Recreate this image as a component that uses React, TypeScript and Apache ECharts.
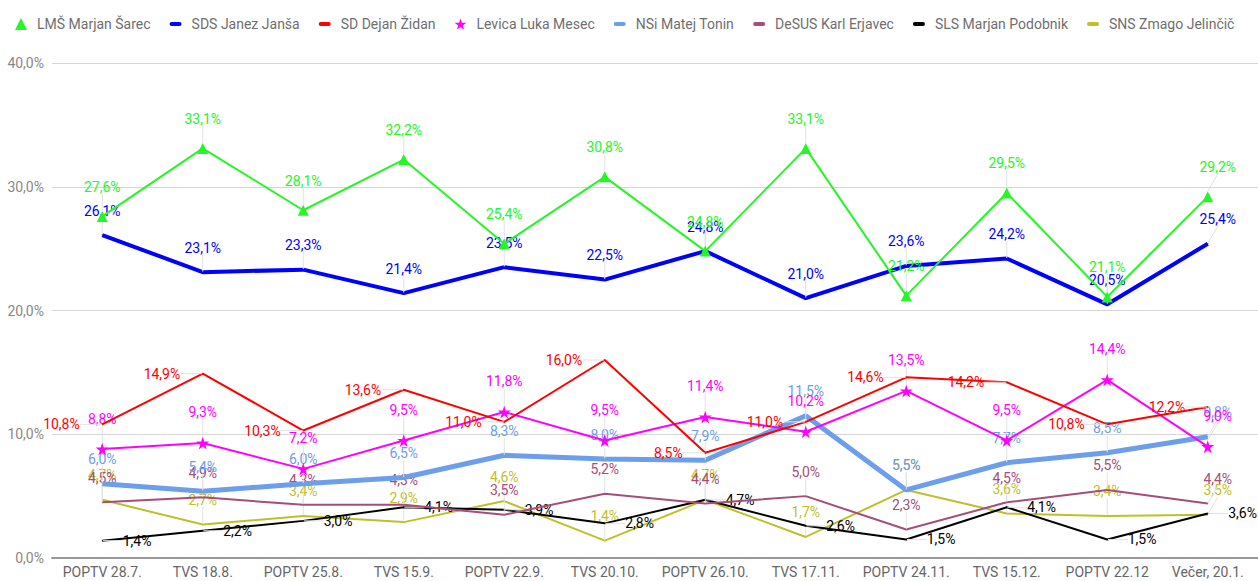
import React, { useEffect, useRef } from "react";
import * as echarts from "echarts";

const categories = [
  "POPTV 28.7.", "TVS 18.8.", "POPTV 25.8.", "TVS 15.9.", "POPTV 22.9.", "TVS 20.10.",
  "POPTV 26.10.", "TVS 17.11.", "POPTV 24.11.", "TVS 15.12.", "POPTV 22.12", "Večer, 20.1.",
];

const lms = [27.6, 33.1, 28.1, 32.2, 25.4, 30.8, 24.8, 33.1, 21.2, 29.5, 21.1, 29.2];
const sds = [26.1, 23.1, 23.3, 21.4, 23.5, 22.5, 24.8, 21.0, 23.6, 24.2, 20.5, 25.4];
const sd = [10.8, 14.9, 10.3, 13.6, 11.0, 16.0, 8.5, 11.0, 14.6, 14.2, 10.8, 12.2];
const levica = [8.8, 9.3, 7.2, 9.5, 11.8, 9.5, 11.4, 10.2, 13.5, 9.5, 14.4, 9.0];
const nsi = [6.0, 5.4, 6.0, 6.5, 8.3, 8.0, 7.9, 11.5, 5.5, 7.7, 8.5, 9.8];
const desus = [4.5, 4.9, 4.3, 4.3, 3.5, 5.2, 4.4, 5.0, 2.3, 4.5, 5.5, 4.4];
const sls = [1.4, 2.2, 3.0, 4.1, 3.9, 2.8, 4.7, 2.6, 1.5, 4.1, 1.5, 3.6];
const sns = [4.7, 2.7, 3.4, 2.9, 4.6, 1.4, 4.7, 1.7, 5.5, 3.6, 3.4, 3.5];

const yTicks = { min: 0, max: 40, interval: 10 };

const STAR = "path://M50,0 L61,35 L98,35 L68,57 L79,91 L50,70 L21,91 L32,57 L2,35 L39,35 Z";
const BAR = "path://M2,0 L10,0 A2,2 0 0 1 10,4 L2,4 A2,2 0 0 1 2,0 Z";

const fmt = (v: number) => v.toFixed(1).replace(".", ",") + "%";

type Def = {
  name: string;
  data: number[];
  color: string;
  width: number;
  symbol: string;
  symbolSize: number;
  icon: string;
  pos: "top" | "left" | "right";
};

const defs: Def[] = [
  { name: "LMŠ Marjan Šarec", data: lms, color: "#26f526", width: 2, symbol: "triangle", symbolSize: 11, icon: "triangle", pos: "top" },
  { name: "SDS Janez Janša", data: sds, color: "#0000ff", width: 4, symbol: "circle", symbolSize: 1, icon: BAR, pos: "top" },
  { name: "SD Dejan Židan", data: sd, color: "#ff0000", width: 2, symbol: "circle", symbolSize: 1, icon: BAR, pos: "left" },
  { name: "Levica Luka Mesec", data: levica, color: "#ff00ff", width: 2, symbol: STAR, symbolSize: 13, icon: STAR, pos: "top" },
  { name: "NSi Matej Tonin", data: nsi, color: "#6d9eeb", width: 5, symbol: "circle", symbolSize: 1, icon: BAR, pos: "top" },
  { name: "DeSUS Karl Erjavec", data: desus, color: "#a64d79", width: 2, symbol: "circle", symbolSize: 1, icon: BAR, pos: "top" },
  { name: "SLS Marjan Podobnik", data: sls, color: "#000000", width: 2, symbol: "circle", symbolSize: 1, icon: BAR, pos: "right" },
  { name: "SNS Zmago Jelinčič", data: sns, color: "#bfbf2a", width: 2, symbol: "circle", symbolSize: 1, icon: BAR, pos: "top" },
];

export default function App() {
  const ref = useRef<HTMLDivElement>(null);
  useEffect(() => {
    if (!ref.current) return;
    const chart = echarts.init(ref.current, undefined, { renderer: "svg" });
    const last = categories.length - 1;
    const series = defs.map((d, i) => {
      const layout = (p: any) => {
        if (d.pos === "top") return { dy: -11, dx: p.dataIndex === last ? 10 : 0 };
        if (d.pos === "left") return { dx: -14 };
        return { dx: 12 };
      };
      return {
        type: "line",
        name: d.name,
        data: d.data,
        z: 20 - i,
        symbol: d.symbol,
        symbolSize: d.symbolSize,
        showSymbol: true,
        itemStyle: { color: d.color },
        lineStyle: { color: d.color, width: d.width },
        label: {
          show: true,
          position: d.pos,
          distance: d.pos === "top" ? 6 : 8,
          color: d.color,
          fontFamily: "Roboto",
          fontSize: 14,
          formatter: (p: any) => fmt(p.value),
        },
        labelLayout: layout,
        labelLine: { show: true, lineStyle: { color: "#e2e2e2", width: 1 } },
        emphasis: { disabled: true },
      };
    });
    chart.setOption({
      animation: false,
      textStyle: { fontFamily: "Roboto" },
      legend: {
        left: 10,
        top: 12,
        width: 1256,
        itemWidth: 12,
        itemHeight: 12,
        itemGap: 19,
        symbolKeepAspect: true,
        textStyle: { color: "#6f6f6f", fontSize: 14, fontFamily: "Roboto", padding: [0, 0, 0, 5] },
        data: defs.map((d) => ({ name: d.name, icon: d.icon })),
      },
      grid: { left: 52, right: 0, top: 63, bottom: 23 },
      xAxis: {
        type: "category",
        data: categories,
        boundaryGap: true,
        axisTick: { show: false },
        axisLine: { lineStyle: { color: "#999", width: 2 } },
        axisLabel: { color: "#666", fontSize: 14, fontFamily: "Roboto", margin: 7, interval: 0 },
      },
      yAxis: {
        type: "value",
        min: yTicks.min,
        max: yTicks.max,
        interval: yTicks.interval,
        axisLine: { show: false },
        axisTick: { show: false },
        splitLine: { lineStyle: { color: "#d6d6d6", width: 1 } },
        axisLabel: { color: "#888", fontSize: 14, fontFamily: "Roboto", margin: 8, formatter: (v: number) => fmt(v) },
      },
      series,
    });
    return () => chart.dispose();
  }, []);
  return (
    <div
      ref={ref}
      style={{ position: "fixed", left: 0, top: 0, width: 1258, height: 581, background: "#fff" }}
    />
  );
}
